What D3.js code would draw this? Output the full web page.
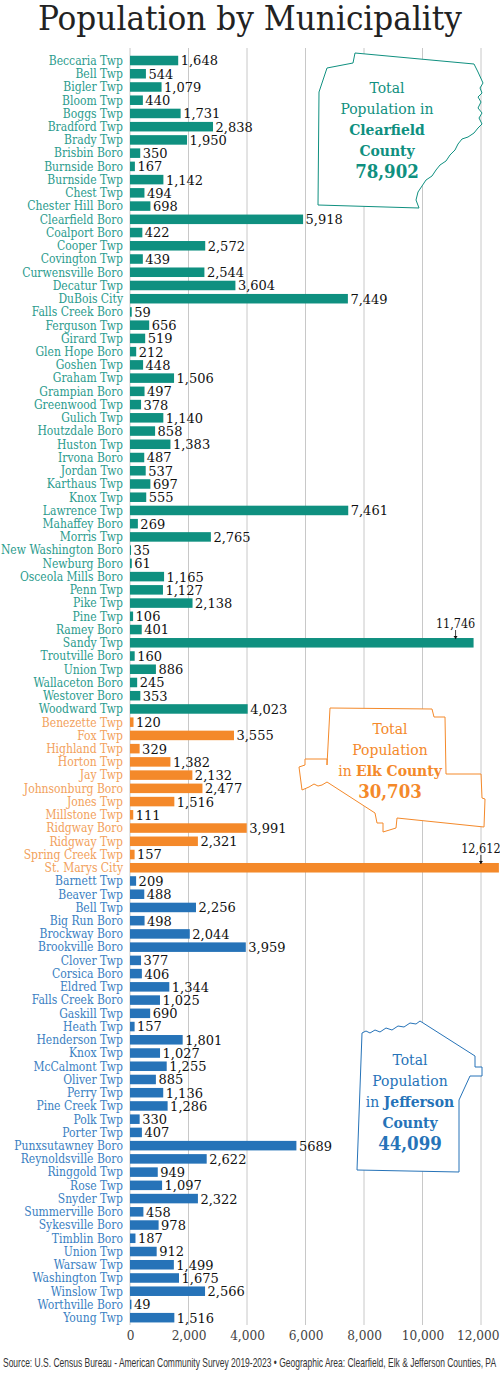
<!DOCTYPE html>
<html>
<head>
<meta charset="utf-8">
<script src="https://cdn.jsdelivr.net/npm/d3@7"></script>
<style>
  body { margin: 0; background: #fff; }
</style>
</head>
<body>
<div id="chart"></div>
<script>
// municipality names and populations, by county
var clearfieldNames = ["Beccaria Twp","Bell Twp","Bigler Twp","Bloom Twp","Boggs Twp","Bradford Twp","Brady Twp","Brisbin Boro","Burnside Boro","Burnside Twp","Chest Twp","Chester Hill Boro","Clearfield Boro","Coalport Boro","Cooper Twp","Covington Twp","Curwensville Boro","Decatur Twp","DuBois City","Falls Creek Boro","Ferguson Twp","Girard Twp","Glen Hope Boro","Goshen Twp","Graham Twp","Grampian Boro","Greenwood Twp","Gulich Twp","Houtzdale Boro","Huston Twp","Irvona Boro","Jordan Two","Karthaus Twp","Knox Twp","Lawrence Twp","Mahaffey Boro","Morris Twp","New Washington Boro","Newburg Boro","Osceola Mills Boro","Penn Twp","Pike Twp","Pine Twp","Ramey Boro","Sandy Twp","Troutville Boro","Union Twp","Wallaceton Boro","Westover Boro","Woodward Twp"];
var clearfieldValues = [1648,544,1079,440,1731,2838,1950,350,167,1142,494,698,5918,422,2572,439,2544,3604,7449,59,656,519,212,448,1506,497,378,1140,858,1383,487,537,697,555,7461,269,2765,35,61,1165,1127,2138,106,401,11746,160,886,245,353,4023];

var elkNames = ["Benezette Twp","Fox Twp","Highland Twp","Horton Twp","Jay Twp","Johnsonburg Boro","Jones Twp","Millstone Twp","Ridgway Boro","Ridgway Twp","Spring Creek Twp","St. Marys City"];
var elkValues = [120,3555,329,1382,2132,2477,1516,111,3991,2321,157,12612];

var jeffersonNames = ["Barnett Twp","Beaver Twp","Bell Twp","Big Run Boro","Brockway Boro","Brookville Boro","Clover Twp","Corsica Boro","Eldred Twp","Falls Creek Boro","Gaskill Twp","Heath Twp","Henderson Twp","Knox Twp","McCalmont Twp","Oliver Twp","Perry Twp","Pine Creek Twp","Polk Twp","Porter Twp","Punxsutawney Boro","Reynoldsville Boro","Ringgold Twp","Rose Twp","Snyder Twp","Summerville Boro","Sykesville Boro","Timblin Boro","Union Twp","Warsaw Twp","Washington Twp","Winslow Twp","Worthville Boro","Young Twp"];
var jeffersonValues = [209,488,2256,498,2044,3959,377,406,1344,1025,690,157,1801,1027,1255,885,1136,1286,330,407,5689,2622,949,1097,2322,458,978,187,912,1499,1675,2566,49,1516];

var xTicks = [0,2000,4000,6000,8000,10000,12000];
var countyNames = ["Clearfield","Elk","Jefferson"];
var countyTotals = [78902,30703,44099];
var calloutValues = [11746,12612];   // bars too long for an end label

var colors = {
  Clearfield: { bar: "#0f9080", label: "#2b9b8d" },
  Elk:        { bar: "#f4892a", label: "#f2a15c" },
  Jefferson:  { bar: "#2673b8", label: "#3a80c2" }
};

var serif = "'DejaVu Serif', serif";
var serifNarrow = "'DejaVu Serif Condensed', 'DejaVu Serif', serif";

// rows in display order
var rows = [];
function addCounty(county, names, values) {
  names.forEach(function(n, i) {
    rows.push({ id: rows.length, name: n, value: values[i], county: county });
  });
}
addCounty("Clearfield", clearfieldNames, clearfieldValues);
addCounty("Elk", elkNames, elkValues);
addCounty("Jefferson", jeffersonNames, jeffersonValues);

var W = 500, H = 1376;
var fmt = d3.format(",");

var x = d3.scaleLinear().domain([0, 12000]).range([130, 481]);
var y = d3.scaleBand()
  .domain(rows.map(function(d) { return d.id; }))
  .range([53.9, 1324.3])
  .paddingInner(0.28)
  .paddingOuter(0.14);

var svg = d3.select("#chart").append("svg")
  .attr("width", W)
  .attr("height", H)
  .attr("viewBox", "0 0 " + W + " " + H);

// title
svg.append("text")
  .attr("x", 250)
  .attr("y", 30)
  .attr("text-anchor", "middle")
  .style("font-family", serifNarrow)
  .attr("font-size", 33)
  .attr("fill", "#222")
  .attr("textLength", 424)
  .attr("lengthAdjust", "spacingAndGlyphs")
  .text("Population by Municipality");

// grid lines
svg.append("g")
  .attr("class", "grid")
  .selectAll("line")
  .data(xTicks)
  .enter()
  .append("line")
  .attr("x1", function(d) { return x(d); })
  .attr("x2", function(d) { return x(d); })
  .attr("y1", 48)
  .attr("y2", 1325)
  .attr("stroke", "#c8c8c8")
  .attr("stroke-width", 1);

// x axis labels
var xAxis = d3.axisBottom(x)
  .tickValues(xTicks)
  .tickFormat(fmt)
  .tickSize(0)
  .tickPadding(0);

var gx = svg.append("g")
  .attr("class", "x axis")
  .attr("transform", "translate(0,1330)")
  .call(xAxis);
gx.select(".domain").remove();
gx.selectAll("text")
  .style("font-family", serifNarrow)
  .attr("font-size", 13.5)
  .attr("fill", "#444");
// keep the last label inside the page
gx.selectAll("text")
  .filter(function(d) { return d === 12000; })
  .attr("text-anchor", "end")
  .attr("x", 18);

// county outline shapes (white fill hides the grid behind them)
var outlines = {
  Clearfield: "M355,53 L474,64 L478,72 L483,83 L480,88 L482,93 L478,97 L481,102 L478,108 L482,113 L479,118 L482,124 L478,128 L474,133 L468,137 L462,139 L458,144 L455,150 L450,155 L446,161 L440,165 L436,170 L432,176 L426,180 L422,186 L418,192 L416,200 L419,208 L318,205 L319,92 L327,68 L353,63 Z",
  Elk: "M330,708 L432,709 L434,717 L445,717 L446,774 L481,774 L482,798 L485,799 L484,827 L397,818 L396,828 L383,832 L383,823 L377,823 L375,813 L327,782 L322,785 L318,786 L314,784 L309,787 L302,790 L299,767 L305,765 L305,759 L327,759 L327,765 Z",
  Jefferson: "M362,1033 L366,1031 L370,1033 L375,1030 L380,1032 L386,1028 L392,1030 L398,1026 L404,1027 L410,1023 L416,1024 L420,1021 L475,1056 L475,1067 L482,1067 L482,1076 L470,1076 L459,1100 L459,1172 L357,1170 Z"
};

svg.append("g")
  .selectAll("path")
  .data(countyNames)
  .enter()
  .append("path")
  .attr("d", function(d) { return outlines[d]; })
  .attr("fill", "#fff")
  .attr("stroke", function(d) { return colors[d].bar; })
  .attr("stroke-width", 1);

// callout text in each outline
var calloutLines = {
  Clearfield: { cx: 387, y0: 93, lines: [["Total"], ["Population in"], [null, "Clearfield"], [null, "County"]] },
  Elk:        { cx: 390, y0: 734, lines: [["Total"], ["Population"], ["in ", "Elk County"]] },
  Jefferson:  { cx: 410, y0: 1065, lines: [["Total"], ["Population"], ["in ", "Jefferson"], [null, "County"]] }
};

countyNames.forEach(function(c, ci) {
  var info = calloutLines[c];
  var g = svg.append("g").attr("fill", colors[c].bar).style("font-family", serifNarrow);
  info.lines.forEach(function(parts, i) {
    var t = g.append("text")
      .attr("x", info.cx)
      .attr("y", info.y0 + i * 21)
      .attr("text-anchor", "middle")
      .attr("font-size", 15.5);
    if (parts[0]) t.append("tspan").text(parts[0]);
    if (parts[1]) t.append("tspan").attr("font-weight", "bold").text(parts[1]);
  });
  g.append("text")
    .attr("x", info.cx)
    .attr("y", info.y0 + info.lines.length * 21 + 1)
    .attr("text-anchor", "middle")
    .attr("font-size", 18.5)
    .attr("font-weight", "bold")
    .text(fmt(countyTotals[ci]));
});

// category labels
svg.append("g")
  .style("font-family", serifNarrow)
  .selectAll("text")
  .data(rows)
  .enter()
  .append("text")
  .attr("x", 123)
  .attr("y", function(d) { return y(d.id) + y.bandwidth() / 2; })
  .attr("dy", "0.36em")
  .attr("text-anchor", "end")
  .attr("font-size", 12)
  .attr("fill", function(d) { return colors[d.county].label; })
  .text(function(d) { return d.name; });

// bars
svg.append("g")
  .selectAll("rect")
  .data(rows)
  .enter()
  .append("rect")
  .attr("x", x(0))
  .attr("y", function(d) { return y(d.id); })
  .attr("width", function(d) { return Math.max(1, x(d.value) - x(0)); })
  .attr("height", y.bandwidth())
  .attr("fill", function(d) { return colors[d.county].bar; });

// value labels at bar ends
svg.append("g")
  .style("font-family", serif)
  .selectAll("text")
  .data(rows.filter(function(d) { return calloutValues.indexOf(d.value) < 0; }))
  .enter()
  .append("text")
  .attr("x", function(d) { return x(d.value) + 2.5; })
  .attr("y", function(d) { return y(d.id) + y.bandwidth() / 2; })
  .attr("dy", "0.38em")
  .attr("font-size", 13)
  .attr("fill", "#111")
  .text(function(d) { return d.name === "Punxsutawney Boro" ? String(d.value) : fmt(d.value); });

// labels with arrows for the two longest bars
var big = svg.append("g")
  .selectAll("g")
  .data(rows.filter(function(d) { return calloutValues.indexOf(d.value) >= 0; }))
  .enter()
  .append("g");

big.append("text")
  .attr("x", function(d) { return x(d.value) - 18; })
  .attr("y", function(d) { return y(d.id) - 10; })
  .attr("text-anchor", "middle")
  .style("font-family", serifNarrow)
  .attr("font-size", 12.5)
  .attr("fill", "#111")
  .text(function(d) { return fmt(d.value); });

big.append("line")
  .attr("x1", function(d) { return x(d.value) - 18; })
  .attr("x2", function(d) { return x(d.value) - 18; })
  .attr("y1", function(d) { return y(d.id) - 8; })
  .attr("y2", function(d) { return y(d.id) + 1; })
  .attr("stroke", "#111")
  .attr("stroke-width", 0.8);

big.append("path")
  .attr("d", function(d) {
    var ax = x(d.value) - 18, ay = y(d.id) + 1;
    return "M" + (ax - 2) + "," + (ay - 3) + " L" + (ax + 2) + "," + (ay - 3) + " L" + ax + "," + ay + " Z";
  })
  .attr("fill", "#111");

// source line, squeezed horizontally to the page width
var src = svg.append("text")
  .attr("x", 0)
  .attr("y", 0)
  .style("font-family", "'Liberation Sans Narrow', 'Liberation Sans', sans-serif")
  .attr("font-size", 12)
  .attr("fill", "#333")
  .text("Source: U.S. Census Bureau - American Community Survey 2019-2023 \u2022 Geographic Area: Clearfield, Elk & Jefferson Counties, PA");
var srcLen = src.node().getComputedTextLength();
src.attr("transform", "translate(3,1367) scale(" + (494 / srcLen) + ",1)");
</script>
</body>
</html>
